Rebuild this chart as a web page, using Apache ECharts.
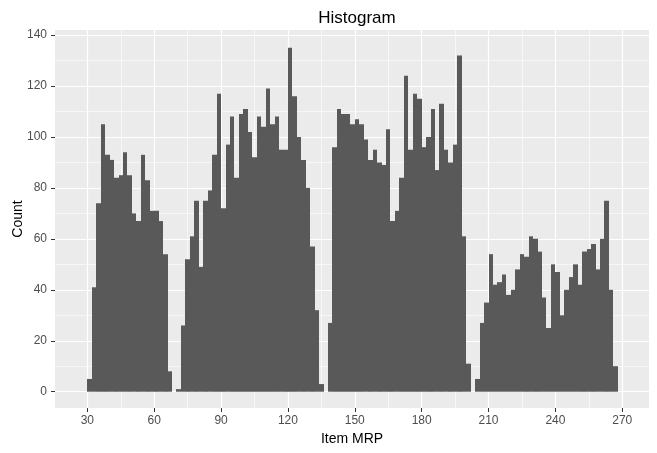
<!DOCTYPE html>
<html>
<head>
<meta charset="utf-8">
<title>Histogram</title>
<script src="https://cdn.jsdelivr.net/npm/echarts@6/dist/echarts.min.js"></script>
<style>
    html, body { margin: 0; padding: 0; background: #fff; }
    #chart { width: 657px; height: 453px; }
</style>
</head>
<body>
<div id="chart"></div>
<script>
    // histogram bins: first bin starts at binStart, each bin binWidth wide
    var binStart = 30
    var binWidth = 2
    // counts per bin
    var counts = [
        5, 41, 74, 105, 93, 91, 84, 85, 94, 85, 70, 67, 93, 83, 71, 71, 67, 54, 8, 0,
        1, 26, 52, 61, 75, 49, 75, 79, 93, 117, 72, 97, 108, 84, 109, 111, 102, 92, 108, 104,
        119, 105, 108, 95, 95, 135, 116, 100, 91, 80, 57, 32, 3, 0, 27, 96, 111, 109, 109, 105,
        107, 105, 99, 91, 95, 90, 89, 103, 67, 71, 84, 124, 95, 117, 115, 96, 100, 111, 87, 113,
        95, 90, 97, 132, 61, 11, 0, 5, 27, 35, 54, 42, 43, 46, 38, 40, 48, 54, 53, 61,
        60, 55, 37, 25, 50, 47, 30, 40, 45, 50, 42, 55, 56, 58, 48, 60, 75, 40, 10
    ]
    // tick labels / grid lines
    var xTicks = [30, 60, 90, 120, 150, 180, 210, 240, 270]
    var xMinor = [45, 75, 105, 135, 165, 195, 225, 255]
    var yTicks = [0, 20, 40, 60, 80, 100, 120, 140]
    var yMinor = [10, 30, 50, 70, 90, 110, 130]

    var chart = echarts.init(document.getElementById('chart'))

    var histData = counts.map(function (c, i) {
        return [binStart + i * binWidth, binStart + (i + 1) * binWidth, c]
    })

    // white panel grid, drawn under the bars
    var gridLines = []
    xMinor.forEach(function (v) { gridLines.push({ xAxis: v, lineStyle: { color: '#fff', width: 0.6, type: 'solid' } }) })
    yMinor.forEach(function (v) { gridLines.push({ yAxis: v, lineStyle: { color: '#fff', width: 0.6, type: 'solid' } }) })
    xTicks.forEach(function (v) { gridLines.push({ xAxis: v, lineStyle: { color: '#fff', width: 1.2, type: 'solid' } }) })
    yTicks.forEach(function (v) { gridLines.push({ yAxis: v, lineStyle: { color: '#fff', width: 1.2, type: 'solid' } }) })

    var labelFont = 'Liberation Sans, Arial, sans-serif'

    var option = {
        animation: false,
        title: {
            text: 'Histogram',
            left: 352,
            textAlign: 'center',
            top: 5,
            textStyle: { fontFamily: labelFont, fontSize: 17, fontWeight: 'normal', color: '#000' }
        },
        grid: {
            left: 55, right: 8, top: 30, bottom: 45,
            outerBoundsMode: 'none', // keep the panel exactly where it is, labels sit outside
            containLabel: false,
            show: true, backgroundColor: '#EBEBEB', borderWidth: 0
        },
        xAxis: {
            type: 'value',
            min: 15.5, max: 282,
            name: 'Item MRP',
            nameLocation: 'middle',
            nameGap: 24,
            nameMoveOverlap: false,
            nameTextStyle: { fontFamily: labelFont, fontSize: 14, color: '#000' },
            axisLine: { show: false, onZero: false },
            axisTick: { show: true, length: 4, customValues: xTicks, lineStyle: { color: '#333', width: 1 } },
            axisLabel: { customValues: xTicks, margin: 7, fontFamily: labelFont, fontSize: 12, color: '#4D4D4D' },
            splitLine: { show: false }
        },
        yAxis: {
            type: 'value',
            min: -6.4, max: 142,
            name: 'Count',
            nameLocation: 'middle',
            nameGap: 30,
            nameMoveOverlap: false,
            nameTextStyle: { fontFamily: labelFont, fontSize: 14, color: '#000' },
            axisLine: { show: false, onZero: false },
            axisTick: { show: true, length: 4, customValues: yTicks, lineStyle: { color: '#333', width: 1 } },
            axisLabel: { customValues: yTicks, margin: 8, fontFamily: labelFont, fontSize: 12, color: '#4D4D4D' },
            splitLine: { show: false }
        },
        series: [
            {
                type: 'line',
                data: [],
                z: 1,
                silent: true,
                markLine: { silent: true, symbol: 'none', label: { show: false }, animation: false, data: gridLines }
            },
            {
                type: 'custom',
                z: 5,
                data: histData,
                renderItem: function (params, api) {
                    if (!api.value(2)) return
                    var p0 = api.coord([api.value(0), api.value(2)])
                    var p1 = api.coord([api.value(1), 0])
                    // snap left/right edges to whole pixels so neighbouring bins meet without seams
                    var x0 = Math.round(p0[0])
                    var x1 = Math.round(p1[0])
                    return {
                        type: 'rect',
                        shape: { x: x0, y: p0[1], width: x1 - x0, height: p1[1] - p0[1] },
                        style: { fill: '#595959' }
                    }
                },
                encode: { x: [0, 1], y: 2 }
            }
        ]
    }
    chart.setOption(option)
</script>
</body>
</html>
